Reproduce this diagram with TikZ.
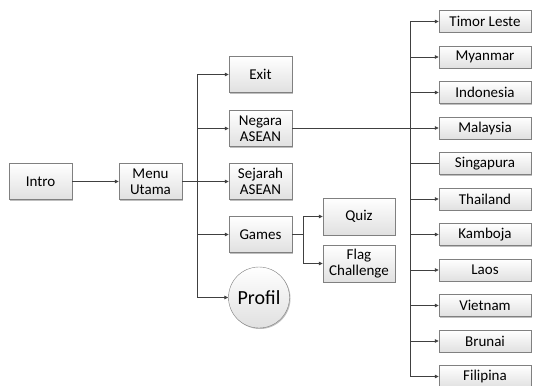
\documentclass[tikz,border=0pt]{standalone}
\usepackage{fontspec}
\setmainfont{Carlito}
\usetikzlibrary{arrows.meta,shadows}
\begin{document}
\begin{tikzpicture}[x=1pt,y=-1pt]
\tikzset{
 box/.style={draw=black!50, top color=white, bottom color=black!12, minimum width=63pt, minimum height=36pt, align=center, inner sep=1pt, font=\fontsize{15}{16}\selectfont, drop shadow={shadow xshift=1pt, shadow yshift=-1pt, opacity=0.25, fill=black}},
 cbox/.style={box, minimum width=92pt, minimum height=22pt},
 conn/.style={draw=black!75, line width=0.8pt},
 arr/.style={conn, -{Triangle[length=4pt,width=3.5pt]}},
}
\useasboundingbox (0,0) rectangle (534,385);
% left part
\node[box] (intro) at (40.5,181.5) {Intro};
\node[box] (menu) at (150.5,181.5) {Menu\\Utama};
\node[box] (exit) at (260.5,74.5) {Exit};
\node[box] (negara) at (260.5,128.5) {Negara\\ASEAN};
\node[box] (sejarah) at (260.5,181.5) {Sejarah\\ASEAN};
\node[box] (games) at (260.5,234.5) {Games};
\node[circle, draw=black!50, top color=white, bottom color=black!12, minimum size=61pt, inner sep=0pt, font=\fontsize{20}{22}\selectfont, drop shadow={shadow xshift=1pt, shadow yshift=-1pt, opacity=0.25, fill=black}] (profil) at (259,297.5) {Profil};
\node[box, minimum width=72pt, minimum height=37pt] (quiz) at (359,216.5) {Quiz};
\node[box, minimum width=72pt, minimum height=37pt] (flag) at (359,263.5) {Flag\\Challenge};
% countries
\node[cbox] (c1) at (485,21.5) {Timor Leste};
\node[cbox] (c2) at (485,57) {Myanmar};
\node[cbox] (c3) at (485,92.5) {Indonesia};
\node[cbox] (c4) at (485,128) {Malaysia};
\node[cbox] (c5) at (485,163.5) {Singapura};
\node[cbox] (c6) at (485,199) {Thailand};
\node[cbox] (c7) at (485,234.5) {Kamboja};
\node[cbox] (c8) at (485,270) {Laos};
\node[cbox] (c9) at (485,305.5) {Vietnam};
\node[cbox] (c10) at (485,341) {Brunai};
\node[cbox] (c11) at (485,376.5) {Filipina};
% trunks
\coordinate (ta) at (197,74.5);
\coordinate (tb) at (197,297.5);
\coordinate (ra) at (410,21.5);
\coordinate (rb) at (410,376.5);
\coordinate (ga) at (303,216.5);
\coordinate (gb) at (303,263.5);
% connectors
\draw[arr] (intro.east) -- (menu.west);
\draw[conn] (menu.east) -- (menu.east -| ta);
\draw[conn] (ta) -- (tb);
\draw[arr] (ta) -- (exit.west);
\draw[arr] (negara.west -| ta) -- (negara.west);
\draw[arr] (sejarah.west -| ta) -- (sejarah.west);
\draw[arr] (games.west -| ta) -- (games.west);
\draw[arr] (tb) -- (profil.west);
\draw[conn] (games.east) -- (games.east -| ga);
\draw[conn] (ga) -- (gb);
\draw[arr] (ga) -- (quiz.west);
\draw[arr] (gb) -- (flag.west);
\draw[conn, line width=1.6pt] (negara.east) -- (negara.east -| ra);
\draw[conn, line width=1pt] (ra) -- (rb);
\foreach \c in {c1,c2,c3,c4,c6,c7,c8,c9,c10,c11} \draw[arr] (\c.west -| ra) -- (\c.west);
\draw[conn] (c5.west -| ra) -- (c5.west);
\end{tikzpicture}
\end{document}
